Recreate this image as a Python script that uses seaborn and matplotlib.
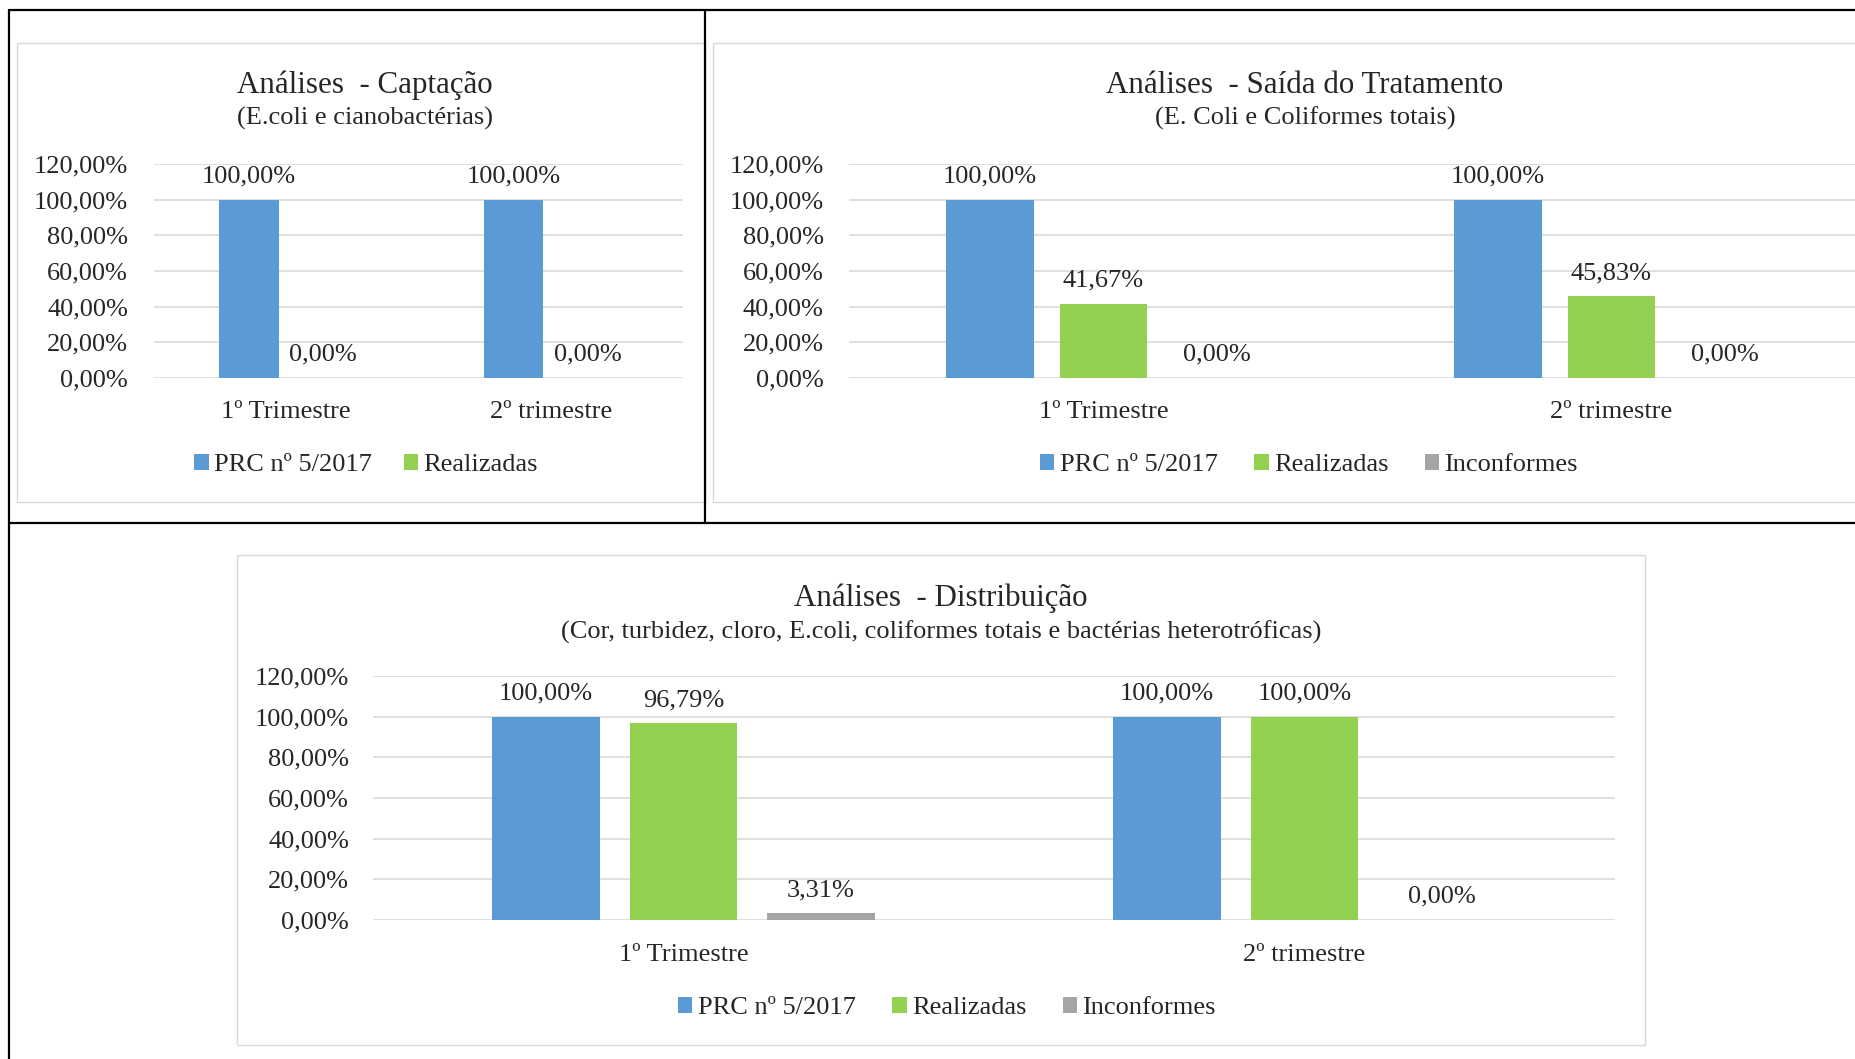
import matplotlib
matplotlib.use("Agg")
import matplotlib.pyplot as plt
import pandas as pd
import seaborn as sns
from matplotlib.lines import Line2D
from matplotlib.patches import Patch, Rectangle

W, H = 1856, 1059

SERIES = ["PRC nº 5/2017", "Realizadas", "Inconformes"]
COLORS = ["#5B9BD5", "#92D050", "#A5A5A5"]
QUARTERS = ["1º Trimestre", "2º trimestre"]

# Análises - Captação
captacao_prc = [100.00, 100.00]
captacao_realizadas = [0.00, 0.00]

# Análises - Saída do Tratamento
saida_prc = [100.00, 100.00]
saida_realizadas = [41.67, 45.83]
saida_inconformes = [0.00, 0.00]

# Análises - Distribuição
distrib_prc = [100.00, 100.00]
distrib_realizadas = [96.79, 100.00]
distrib_inconformes = [3.31, 0.00]

y_ticks = [0, 20, 40, 60, 80, 100, 120]

FONT_PT = 19
TITLE_PT = 22.3
GRID = "#D9D9D9"


def fig_box(x0, y0, x1, y1):
    # pixel box (top-left origin) -> figure fraction rect
    return [x0 / W, 1 - y1 / H, (x1 - x0) / W, (y1 - y0) / H]


def pct(v):
    return f"{v:.2f}%".replace(".", ",")


def draw_chart(fig, box, series_values, width, gap, ytick_pad, xtick_pad):
    n = len(series_values)
    df = pd.DataFrame({
        "trimestre": QUARTERS * n,
        "serie": [s for s in SERIES[:n] for _ in QUARTERS],
        "valor": [v for vals in series_values for v in vals],
    })
    ax = fig.add_axes(fig_box(*box))
    sns.barplot(
        data=df, x="trimestre", y="valor", hue="serie",
        palette=COLORS[:n], saturation=1, width=width, gap=gap,
        errorbar=None, linewidth=0, legend=False, ax=ax,
    )
    ax.set_ylim(0, 120)
    ax.set_xlim(-0.5, 1.5)
    ax.set_yticks(y_ticks)
    ax.set_yticklabels([pct(t) for t in y_ticks])
    ax.set_xlabel("")
    ax.set_ylabel("")
    ax.set_axisbelow(True)
    ax.yaxis.grid(True, color=GRID, linewidth=1.2)
    ax.xaxis.grid(False)
    for s in ax.spines.values():
        s.set_visible(False)
    ax.set_facecolor("none")
    ax.tick_params(axis="y", length=0, pad=ytick_pad, labelsize=FONT_PT)
    ax.tick_params(axis="x", length=0, pad=xtick_pad, labelsize=FONT_PT)
    for cont in ax.containers:
        ax.bar_label(cont, labels=[pct(b.get_height()) for b in cont],
                     padding=8.7, fontsize=FONT_PT)
    return ax


def add_titles(fig, cx, y_title, y_sub, title, sub):
    fig.text(cx / W, 1 - y_title / H, title, ha="center", va="center", fontsize=TITLE_PT)
    fig.text(cx / W, 1 - y_sub / H, sub, ha="center", va="center", fontsize=FONT_PT)


def add_legend(fig, cx, cy, n, spacing):
    handles = [Patch(facecolor=c, edgecolor="none") for c in COLORS[:n]]
    fig.legend(handles, SERIES[:n], loc="center", bbox_to_anchor=(cx / W, 1 - cy / H),
               ncol=n, frameon=False, fontsize=FONT_PT, handlelength=0.55,
               handleheight=0.55, handletextpad=0.2, columnspacing=spacing,
               borderpad=0, borderaxespad=0)


def add_frame(fig, x0, y0, x1, y1):
    fig.patches.append(Rectangle((x0 / W, 1 - y1 / H), (x1 - x0) / W, (y1 - y0) / H,
                                 transform=fig.transFigure, facecolor="none",
                                 edgecolor=GRID, linewidth=1.0))


def add_line(fig, x0, y0, x1, y1):
    fig.lines.append(Line2D([x0 / W, x1 / W], [1 - y0 / H, 1 - y1 / H],
                            transform=fig.transFigure, color="black", linewidth=1.6))


sns.set_style("white")
plt.rcParams["font.family"] = ["Liberation Serif", "DejaVu Serif"]

fig = plt.figure(figsize=(W / 100, H / 100), dpi=100)
fig.patch.set_facecolor("white")

# chart frames
add_frame(fig, 17, 43, 705, 502)
add_frame(fig, 713, 43, 1880, 502)
add_frame(fig, 237, 555, 1645, 1045)

# table lines
add_line(fig, 9, 10, W + 5, 10)
add_line(fig, 9, 10, 9, H + 5)
add_line(fig, 705, 10, 705, 523)
add_line(fig, 9, 523, W + 5, 523)

draw_chart(fig, (154, 164, 683, 378), [captacao_prc, captacao_realizadas],
           0.56, 0.196, 18.7, 16.3)
add_titles(fig, 365, 85.5, 118.5, "Análises  - Captação", "(E.coli e cianobactérias)")
add_legend(fig, 366, 465, 2, 1.2)

draw_chart(fig, (849.5, 164, 1865.5, 378), [saida_prc, saida_realizadas, saida_inconformes],
           0.67, 0.225, 18.7, 16.3)
add_titles(fig, 1305, 85.5, 118.5, "Análises  - Saída do Tratamento", "(E. Coli e Coliformes totais)")
add_legend(fig, 1309, 465, 3, 1.38)

draw_chart(fig, (373, 676, 1615, 920), [distrib_prc, distrib_realizadas, distrib_inconformes],
           0.664, 0.215, 17.3, 17)
add_titles(fig, 941, 598, 632.5, "Análises  - Distribuição",
           "(Cor, turbidez, cloro, E.coli, coliformes totais e bactérias heterotróficas)")
add_legend(fig, 947, 1008, 3, 1.38)

fig.savefig("out.png", dpi=100)
